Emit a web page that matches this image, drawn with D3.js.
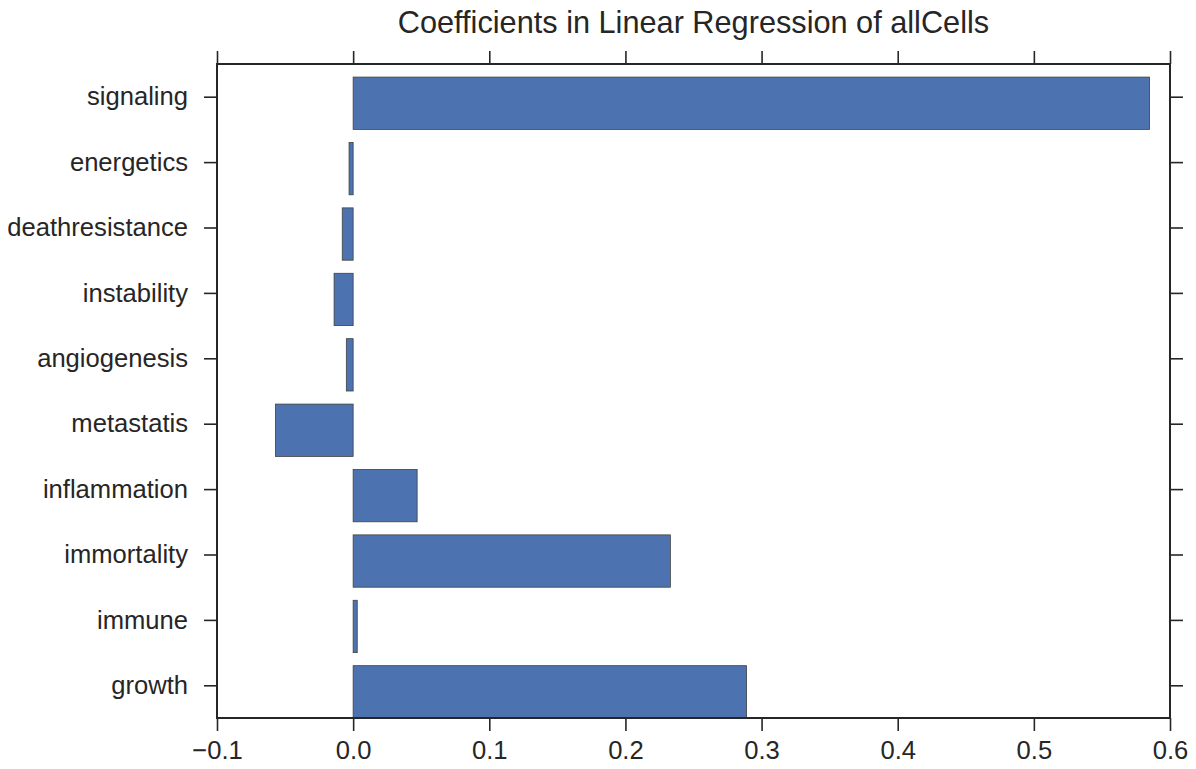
<!DOCTYPE html>
<html>
<head>
<meta charset="utf-8">
<script src="https://cdn.jsdelivr.net/npm/d3@7"></script>
<style>
  html, body { margin: 0; padding: 0; background: #fff; }
  svg { display: block; font-family: "Liberation Sans", Arial, Helvetica, sans-serif; }
</style>
</head>
<body>
<svg id="chart" width="1196" height="769"></svg>
<script>
// Feature groups, listed bottom to top as they sit on the y axis
const categories = ["growth", "immune", "immortality", "inflammation", "metastatis",
                    "angiogenesis", "instability", "deathresistance", "energetics", "signaling"];
// Regression coefficient for each group
const coefficients = [0.289, 0.003, 0.233, 0.047, -0.057, -0.005, -0.014, -0.008, -0.003, 0.585];
// X axis tick values and labels
const xTicks = [-0.1, 0.0, 0.1, 0.2, 0.3, 0.4, 0.5, 0.6];
const xTickLabels = ["\u22120.1", "0.0", "0.1", "0.2", "0.3", "0.4", "0.5", "0.6"];
const title = "Coefficients in Linear Regression of allCells";

(function draw() {
  const svg = d3.select("#chart");
  const frame = { left: 217, right: 1170, top: 64, bottom: 718 };
  const ink = "#262626";

  const x = d3.scaleLinear().domain([-0.1, 0.6]).range([frame.left, frame.right]);
  // Bars occupy [i, i + 0.8] in data units, ticks sit at i + 0.5
  const y = d3.scaleLinear().domain([0, categories.length]).range([frame.bottom, frame.top]);

  // Bars
  svg.append("g").selectAll("rect")
    .data(categories)
    .join("rect")
    .attr("x", (d, i) => x(Math.min(0, coefficients[i])))
    .attr("width", (d, i) => Math.abs(x(coefficients[i]) - x(0)))
    .attr("y", (d, i) => y(i + 0.8))
    .attr("height", (d, i) => y(i) - y(i + 0.8))
    .attr("fill", "#4C72B0")
    .attr("stroke", "#404040")
    .attr("stroke-width", 0.8);

  const tickLen = 13;
  const fontSize = 25.6;

  // Bottom axis
  const axB = d3.axisBottom(x).tickValues(xTicks)
    .tickFormat((d, i) => xTickLabels[i]).tickSize(tickLen).tickPadding(10);
  const gB = svg.append("g").attr("transform", `translate(0,${frame.bottom})`).call(axB);
  // Top axis (ticks only)
  const axT = d3.axisTop(x).tickValues(xTicks).tickFormat("").tickSize(tickLen);
  const gT = svg.append("g").attr("transform", `translate(0,${frame.top})`).call(axT);

  // Left axis with category labels
  const yTickVals = categories.map((d, i) => i + 0.5);
  const axL = d3.axisLeft(y).tickValues(yTickVals)
    .tickFormat((d, i) => categories[i]).tickSize(tickLen).tickPadding(16);
  const gL = svg.append("g").attr("transform", `translate(${frame.left},0)`).call(axL);
  // Right axis (ticks only)
  const axR = d3.axisRight(y).tickValues(yTickVals).tickFormat("").tickSize(tickLen);
  const gR = svg.append("g").attr("transform", `translate(${frame.right},0)`).call(axR);

  [gB, gT, gL, gR].forEach(g => {
    g.select(".domain").remove();
    g.selectAll(".tick line").attr("stroke", ink).attr("stroke-width", 1.6);
    g.selectAll(".tick text").attr("fill", ink).attr("font-size", fontSize)
      .attr("font-family", "'Liberation Sans', Arial, Helvetica, sans-serif");
  });

  // Frame around the plotting area
  svg.append("rect")
    .attr("x", frame.left).attr("y", frame.top)
    .attr("width", frame.right - frame.left)
    .attr("height", frame.bottom - frame.top)
    .attr("fill", "none").attr("stroke", ink).attr("stroke-width", 2);

  // Title
  svg.append("text")
    .attr("x", (frame.left + frame.right) / 2)
    .attr("y", 33)
    .attr("text-anchor", "middle")
    .attr("fill", ink)
    .attr("font-size", 30.7)
    .text(title);
})();
</script>
</body>
</html>
